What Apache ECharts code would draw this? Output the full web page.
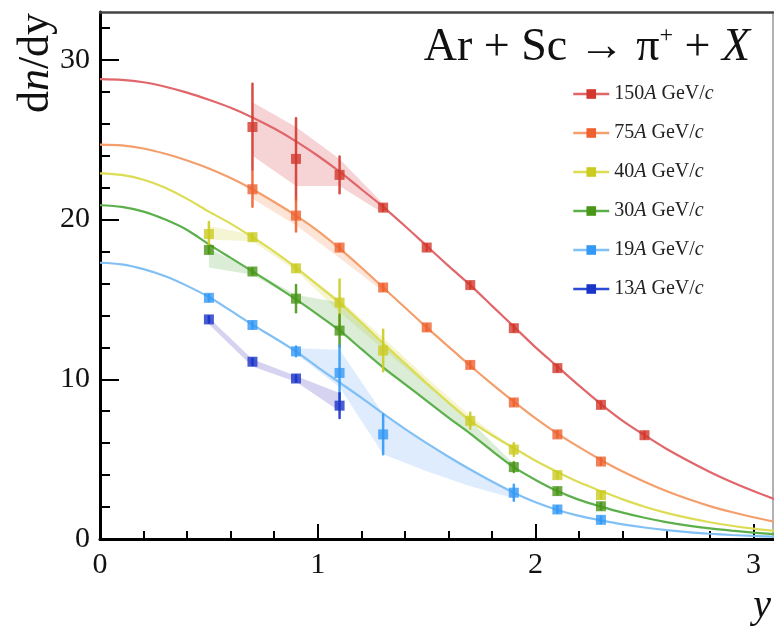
<!DOCTYPE html>
<html>
<head>
<meta charset="utf-8">
<script src="https://cdn.jsdelivr.net/npm/echarts@6/dist/echarts.min.js"></script>
<style>
  html, body { margin: 0; padding: 0; background: #fff; }
  #chart { width: 774px; height: 636px; }
</style>
</head>
<body>
<div id="chart"></div>
<script>
// ---- tick values ----
const yMajorTicks = [0, 10, 20, 30];
const yMinorTicks = [0, 2, 4, 6, 8, 10, 12, 14, 16, 18, 20, 22, 24, 26, 28, 30, 32];
const xMajorTicks = [0, 1, 2, 3];
const xMinorTicks = [0, 0.2, 0.4, 0.6, 0.8, 1, 1.2, 1.4, 1.6, 1.8, 2, 2.2, 2.4, 2.6, 2.8, 3];

// ---- series labels (beam momentum) ----
const seriesNames = ['150A GeV/c', '75A GeV/c', '40A GeV/c', '30A GeV/c', '19A GeV/c', '13A GeV/c'];

// ---- fitted rapidity curves, sampled on curveX ----
const curveX = [0.0, 0.1, 0.2, 0.3, 0.4, 0.5, 0.6, 0.7, 0.8, 0.9, 1.0, 1.1, 1.2, 1.3, 1.4, 1.5,
                1.6, 1.7, 1.8, 1.9, 2.0, 2.1, 2.2, 2.3, 2.4, 2.5, 2.6, 2.7, 2.8, 2.9, 3.0, 3.1];
const fit150 = [28.8, 28.75, 28.6, 28.32, 27.95, 27.5, 27.0, 26.4, 25.7, 24.9, 24.0, 23.0, 21.9, 20.8, 19.6, 18.35,
                17.1, 15.9, 14.6, 13.3, 12.0, 10.8, 9.6, 8.45, 7.4, 6.5, 5.65, 4.9, 4.2, 3.57, 3.0, 2.48];
const fit75  = [24.7, 24.65, 24.45, 24.12, 23.7, 23.2, 22.6, 21.9, 21.1, 20.25, 19.3, 18.2, 17.0, 15.75, 14.5, 13.25,
                12.05, 10.85, 9.7, 8.6, 7.55, 6.6, 5.75, 4.95, 4.22, 3.58, 3.0, 2.5, 2.06, 1.69, 1.36, 1.08];
const fit40  = [22.9, 22.8, 22.5, 22.0, 21.3, 20.5, 19.75, 18.9, 18.0, 17.0, 15.9, 14.8, 13.55, 12.25, 11.0, 9.75,
                8.55, 7.4, 6.5, 5.7, 4.9, 4.2, 3.55, 3.0, 2.48, 2.02, 1.64, 1.32, 1.05, 0.83, 0.65, 0.5];
const fit30  = [20.9, 20.8, 20.5, 20.0, 19.35, 18.45, 17.6, 16.76, 15.9, 15.0, 14.05, 13.06, 11.9, 10.75, 9.7, 8.65,
                7.6, 6.6, 5.52, 4.5, 3.7, 3.0, 2.45, 2.03, 1.65, 1.33, 1.06, 0.84, 0.66, 0.52, 0.4, 0.3];
const fit19  = [17.3, 17.2, 16.9, 16.45, 15.85, 15.15, 14.3, 13.42, 12.6, 11.74, 10.75, 9.8, 8.85, 7.85, 6.9, 6.0,
                5.15, 4.35, 3.6, 2.9, 2.3, 1.82, 1.45, 1.17, 0.92, 0.72, 0.56, 0.43, 0.33, 0.25, 0.19, 0.14];

// ---- measured dn/dy points with statistical errors ----
const x150 = [0.7, 0.9, 1.1, 1.3, 1.5, 1.7, 1.9, 2.1, 2.3, 2.5];
const y150 = [25.8, 23.8, 22.8, 20.75, 18.25, 15.9, 13.2, 10.7, 8.4, 6.5];
const e150 = [2.7, 2.55, 1.15, 0.2, 0.2, 0.2, 0.2, 0.2, 0.2, 0.2];

const x75 = [0.7, 0.9, 1.1, 1.3, 1.5, 1.7, 1.9, 2.1, 2.3];
const y75 = [21.9, 20.25, 18.25, 15.75, 13.25, 10.9, 8.55, 6.55, 4.85];
const e75 = [1.1, 1.0, 0.2, 0.2, 0.2, 0.2, 0.2, 0.2, 0.2];

const x40 = [0.5, 0.7, 0.9, 1.1, 1.3, 1.7, 1.9, 2.1, 2.3];
const y40 = [19.1, 18.9, 16.95, 14.8, 11.8, 7.4, 5.6, 4.0, 2.75];
const e40 = [0.75, 0.2, 0.2, 1.45, 1.3, 0.5, 0.4, 0.2, 0.2];

const x30 = [0.5, 0.7, 0.9, 1.1, 1.9, 2.1, 2.3];
const y30 = [18.1, 16.75, 15.05, 13.05, 4.5, 3.0, 2.05];
const e30 = [0.2, 0.2, 0.85, 1.0, 0.3, 0.2, 0.2];

const x19 = [0.5, 0.7, 0.9, 1.1, 1.3, 1.9, 2.1, 2.3];
const y19 = [15.1, 13.4, 11.75, 10.4, 6.55, 2.9, 1.85, 1.2];
const e19 = [0.2, 0.2, 0.3, 1.7, 1.25, 0.5, 0.2, 0.2];

const x13 = [0.5, 0.7, 0.9, 1.1];
const y13 = [13.75, 11.1, 10.05, 8.35];
const e13 = [0.2, 0.2, 0.2, 0.78];

// ---- systematic uncertainty bands (lower / upper edge) ----
const bx150 = [0.7, 0.9, 1.1, 1.3];
const blo150 = [24.0, 22.1, 22.1, 20.4];
const bhi150 = [27.35, 25.8, 23.8, 21.0];

const bx75 = [0.7, 0.9, 1.1, 1.3];
const blo75 = [21.3, 19.65, 17.6, 15.5];
const bhi75 = [21.9, 20.25, 18.2, 15.75];

const bx40 = [0.5, 0.7, 0.9, 1.1, 1.3, 1.5, 1.7, 1.9];
const blo40 = [18.75, 18.65, 16.8, 14.2, 11.9, 9.6, 7.3, 5.55];
const bhi40 = [19.6, 19.05, 17.05, 15.0, 12.6, 10.1, 7.7, 5.7];

const bx30 = [0.5, 0.7, 0.9, 1.1, 1.3, 1.5, 1.7, 1.9];
const blo30 = [17.0, 16.55, 15.0, 13.0, 10.6, 8.6, 6.5, 4.45];
const bhi30 = [18.2, 16.8, 15.3, 14.8, 12.2, 9.8, 7.4, 4.7];

const bx19 = [0.9, 1.1, 1.3, 1.5, 1.7, 1.9];
const blo19 = [11.6, 9.5, 5.3, 4.25, 3.3, 2.55];
const bhi19 = [11.95, 11.85, 7.85, 6.0, 4.35, 2.9];

const bx13 = [0.5, 0.7, 0.9, 1.1];
const blo13 = [13.45, 10.8, 9.85, 8.0];
const bhi13 = [13.85, 11.25, 10.2, 9.15];

// ---- assemble per-energy groups ----
const groups = [
  { name: seriesNames[0], mark: '#d2382d', line: '#e0666a', band: 'rgba(220,80,85,0.25)',
    fit: fit150, px: x150, py: y150, pe: e150, bx: bx150, blo: blo150, bhi: bhi150 },
  { name: seriesNames[1], mark: '#ee6230', line: '#f49e6c', band: 'rgba(245,150,90,0.25)',
    fit: fit75, px: x75, py: y75, pe: e75, bx: bx75, blo: blo75, bhi: bhi75 },
  { name: seriesNames[2], mark: '#cbcb22', line: '#dcdc55', band: 'rgba(215,215,80,0.25)',
    fit: fit40, px: x40, py: y40, pe: e40, bx: bx40, blo: blo40, bhi: bhi40 },
  { name: seriesNames[3], mark: '#4a9618', line: '#5cb04c', band: 'rgba(90,175,70,0.22)',
    fit: fit30, px: x30, py: y30, pe: e30, bx: bx30, blo: blo30, bhi: bhi30 },
  { name: seriesNames[4], mark: '#3399f5', line: '#80c0f5', band: 'rgba(110,170,245,0.22)',
    fit: fit19, px: x19, py: y19, pe: e19, bx: bx19, blo: blo19, bhi: bhi19 },
  { name: seriesNames[5], mark: '#1a35c8', line: '#2a4ad8', band: 'rgba(120,110,210,0.3)',
    fit: null, px: x13, py: y13, pe: e13, bx: bx13, blo: blo13, bhi: bhi13 }
];

const SERIF = 'Liberation Serif';

function bandRenderer(rows, fill) {
  return function (params, api) {
    if (params.dataIndex !== 0) return null;
    const upper = rows.map(r => api.coord([r[0], r[2]]));
    const lower = rows.slice().reverse().map(r => api.coord([r[0], r[1]]));
    return { type: 'polygon', shape: { points: upper.concat(lower) }, style: { fill: fill } };
  };
}

function errorRenderer(color) {
  return function (params, api) {
    const x = api.value(0);
    const a = api.coord([x, api.value(2)]);
    const b = api.coord([x, api.value(1)]);
    return {
      type: 'line',
      shape: { x1: a[0], y1: a[1], x2: b[0], y2: b[1] },
      style: { stroke: color, lineWidth: 2.5, lineCap: 'round', opacity: 0.9 }
    };
  };
}

const series = [];

// bands underneath everything
groups.forEach(g => {
  const rows = g.bx.map((x, i) => [x, g.blo[i], g.bhi[i]]);
  series.push({
    type: 'custom', name: g.name + ' syst', silent: true, z: 1,
    renderItem: bandRenderer(rows, g.band),
    encode: { x: 0, y: [1, 2] },
    data: rows
  });
});

// fitted curves (also carry the legend entries)
groups.forEach(g => {
  series.push({
    type: 'line', name: g.name, silent: true, z: 2,
    smooth: 0.3, showSymbol: false, symbol: 'rect', symbolSize: 10,
    lineStyle: { color: g.line, width: 2.2 },
    itemStyle: { color: g.mark },
    data: g.fit ? curveX.map((x, i) => [x, g.fit[i]]) : []
  });
});

// error bars and markers; lower energies drawn on top
groups.forEach((g, k) => {
  series.push({
    type: 'custom', name: g.name + ' stat', silent: true, z: 3 + 2 * k,
    renderItem: errorRenderer(g.mark),
    encode: { x: 0, y: [1, 2] },
    data: g.px.map((x, i) => [x, g.py[i] - g.pe[i], g.py[i] + g.pe[i]])
  });
  series.push({
    type: 'scatter', name: g.name + ' data', silent: true, z: 4 + 2 * k,
    symbol: 'rect', symbolSize: 10,
    itemStyle: { color: g.mark },
    data: g.px.map((x, i) => [x, g.py[i]])
  });
});

const XMAX = 3.09, YMAX = 33;
const tickLabel = { fontFamily: SERIF, fontSize: 30, color: '#111' };

const option = {
  animation: false,
  backgroundColor: '#fff',
  grid: { left: 100, right: 1, top: 12, bottom: 97 },
  xAxis: [
    {
      type: 'value', position: 'bottom', min: 0, max: XMAX,
      axisLine: { show: true, onZero: false, lineStyle: { color: '#000', width: 3 } },
      axisTick: { show: true, inside: true, length: 15, customValues: xMajorTicks,
                  lineStyle: { color: '#000', width: 2 } },
      axisLabel: Object.assign({ show: true, margin: 11, customValues: xMajorTicks }, tickLabel),
      splitLine: { show: false }
    },
    {
      type: 'value', position: 'bottom', min: 0, max: XMAX,
      axisLine: { show: false, onZero: false },
      axisTick: { show: true, inside: true, length: 8, customValues: xMinorTicks,
                  lineStyle: { color: '#000', width: 2 } },
      axisLabel: { show: false },
      splitLine: { show: false }
    },
    {
      type: 'value', position: 'top', min: 0, max: XMAX,
      axisLine: { show: true, onZero: false, lineStyle: { color: '#444', width: 2.5 } },
      axisTick: { show: false }, axisLabel: { show: false }, splitLine: { show: false }
    }
  ],
  yAxis: [
    {
      type: 'value', position: 'left', min: 0, max: YMAX,
      axisLine: { show: true, onZero: false, lineStyle: { color: '#000', width: 3 } },
      axisTick: { show: true, inside: true, length: 19, customValues: yMajorTicks,
                  lineStyle: { color: '#000', width: 2 } },
      axisLabel: Object.assign({ show: true, margin: 10, customValues: yMajorTicks, padding: [6, 0, 0, 0] }, tickLabel),
      splitLine: { show: false }
    },
    {
      type: 'value', position: 'left', min: 0, max: YMAX,
      axisLine: { show: false, onZero: false },
      axisTick: { show: true, inside: true, length: 10, customValues: yMinorTicks,
                  lineStyle: { color: '#000', width: 2 } },
      axisLabel: { show: false },
      splitLine: { show: false }
    },
    {
      type: 'value', position: 'right', min: 0, max: YMAX,
      axisLine: { show: true, onZero: false, lineStyle: { color: '#999', width: 1.5 } },
      axisTick: { show: false }, axisLabel: { show: false }, splitLine: { show: false }
    }
  ],
  legend: {
    orient: 'vertical', left: 572, top: 84, padding: 0,
    itemWidth: 36, itemHeight: 12, itemGap: 19,
    selectedMode: false,
    data: seriesNames,
    lineStyle: { width: 2.5 },
    formatter: function (name) {
      const m = name.match(/^(\d+)A GeV\/c$/);
      return '{n|' + m[1] + '}{i|A}{n| GeV/}{i|c}';
    },
    textStyle: {
      fontFamily: SERIF, fontSize: 20, lineHeight: 20, color: '#222',
      rich: {
        n: { fontFamily: SERIF, fontSize: 20, lineHeight: 20, color: '#222' },
        i: { fontFamily: SERIF, fontSize: 20, lineHeight: 20, color: '#222', fontStyle: 'italic' }
      }
    }
  },
  graphic: [
    {
      type: 'text', right: 24, top: 24, silent: true,
      style: {
        text: '{r|Ar + Sc \u2192 \u03c0}{s|+}{r| + }{i|X}',
        rich: {
          r: { fontFamily: SERIF, fontSize: 46, lineHeight: 47, fill: '#111' },
          s: { fontFamily: SERIF, fontSize: 24, lineHeight: 24, verticalAlign: 'top', fill: '#111' },
          i: { fontFamily: SERIF, fontSize: 46, lineHeight: 47, fontStyle: 'italic', fill: '#111' }
        }
      }
    },
    {
      type: 'text', x: 36, y: 63, rotation: Math.PI / 2, silent: true,
      style: {
        text: '{r|d}{i|n}{r|/dy}',
        align: 'center', verticalAlign: 'middle', textAlign: 'center', textVerticalAlign: 'middle',
        rich: {
          r: { fontFamily: SERIF, fontSize: 44, lineHeight: 46, fill: '#111' },
          i: { fontFamily: SERIF, fontSize: 44, lineHeight: 46, fontStyle: 'italic', fill: '#111' }
        }
      }
    },
    {
      type: 'text', x: 771, y: 606, silent: true,
      style: {
        text: 'y', fontFamily: SERIF, fontSize: 40, fontStyle: 'italic', fill: '#111',
        align: 'right', verticalAlign: 'middle', textAlign: 'right', textVerticalAlign: 'middle'
      }
    }
  ],
  series: series
};

const chart = echarts.init(document.getElementById('chart'), null, { renderer: 'canvas' });
chart.setOption(option);
</script>
</body>
</html>
